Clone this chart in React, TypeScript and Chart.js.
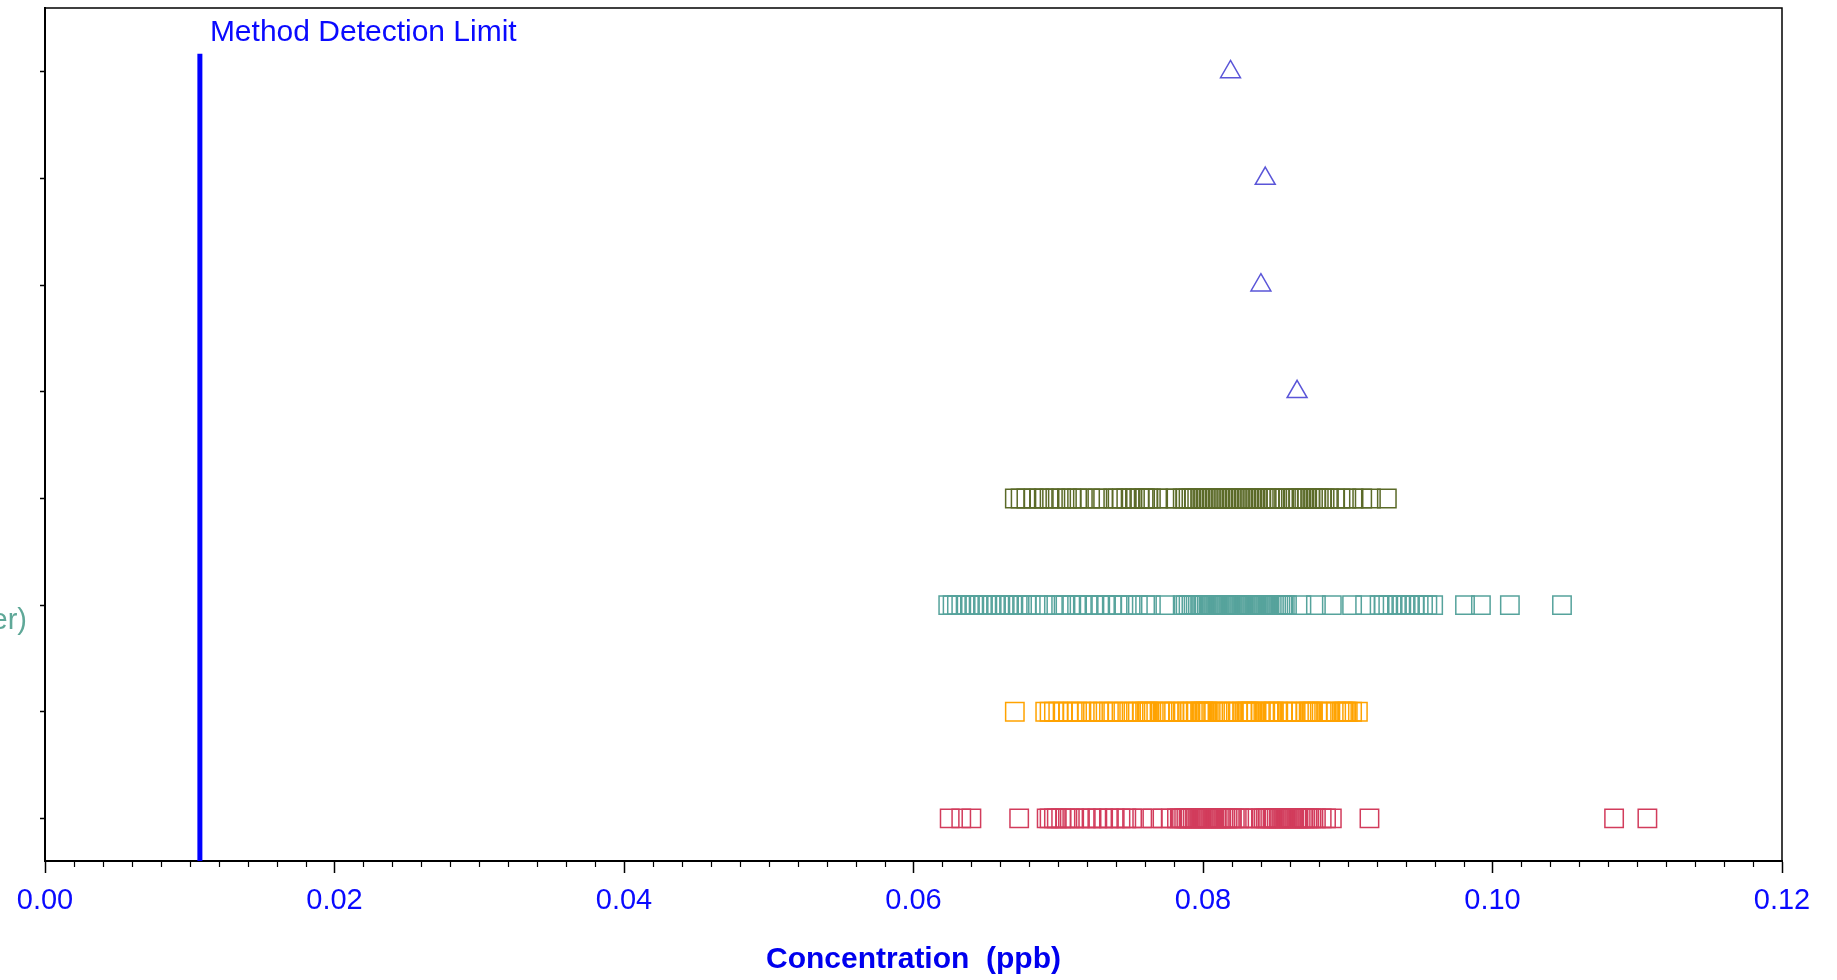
import { useEffect, useRef } from "react";
import { Chart, registerables } from "chart.js";

Chart.register(...registerables);

// ---------- data ----------
const xTickValues = [0, 0.02, 0.04, 0.06, 0.08, 0.1, 0.12];
const xTickLabels = ["0.00", "0.02", "0.04", "0.06", "0.08", "0.10", "0.12"];
const rowPositions = [1, 2, 3, 4, 5, 6, 7, 8];

const mdlValue = 0.0107;
const mdlTop = 8.17;
const mdlLabel = "Method Detection Limit";
const xTitle = "Concentration  (ppb)";
const yVisibleLabel = "er)";
const yLabelRow = 3;

const triangleRows = [5, 6, 7, 8];
const triangleValues = [0.0865, 0.0840, 0.0843, 0.0819];

const oliveRow = 4;
const oliveValues = [
  0.0670, 0.0674, 0.0678, 0.0683, 0.0687, 0.0690, 0.0694, 0.0698, 0.0702, 0.0706,
  0.0709, 0.0713, 0.0717, 0.0722, 0.0727, 0.0731, 0.0738, 0.0741, 0.0744, 0.0747,
  0.0750, 0.0753, 0.0756, 0.0759, 0.0760, 0.0762, 0.0764, 0.0769, 0.0775, 0.0781,
  0.0786, 0.0788, 0.0790, 0.0792, 0.0794, 0.0796, 0.0798, 0.0800, 0.0802, 0.0804,
  0.0806, 0.0808, 0.0810, 0.0812, 0.0814, 0.0816, 0.0818, 0.0820, 0.0822, 0.0824,
  0.0826, 0.0828, 0.0830, 0.0832, 0.0834, 0.0836, 0.0838, 0.0840, 0.0842, 0.0844,
  0.0846, 0.0848, 0.0850, 0.0853, 0.0856, 0.0859, 0.0862, 0.0864, 0.0866, 0.0868,
  0.0870, 0.0872, 0.0874, 0.0876, 0.0878, 0.0880, 0.0882, 0.0884, 0.0887, 0.0891,
  0.0895, 0.0899, 0.0904, 0.0910, 0.0916, 0.0927,
];

const tealRow = 3;
const tealValues = [
  0.0624, 0.0627, 0.0630, 0.0633, 0.0636, 0.0639, 0.0642, 0.0645, 0.0648, 0.0651,
  0.0654, 0.0657, 0.0660, 0.0663, 0.0666, 0.0669, 0.0672, 0.0675, 0.0678, 0.0681,
  0.0686, 0.0691, 0.0697, 0.0702, 0.0705, 0.0709, 0.0713, 0.0717, 0.0721, 0.0725,
  0.0729, 0.0733, 0.0737, 0.0741, 0.0745, 0.0750, 0.0755, 0.0760, 0.0764, 0.0774,
  0.0786, 0.0788, 0.0790, 0.0792, 0.07935, 0.0795, 0.07965, 0.0798, 0.07995, 0.0801,
  0.08025, 0.0804, 0.08055, 0.0807, 0.08085, 0.0810, 0.08115, 0.0813, 0.08145, 0.0816,
  0.08175, 0.0819, 0.08205, 0.0822, 0.08235, 0.0825, 0.08265, 0.0828, 0.08295, 0.0831,
  0.08325, 0.0834, 0.08355, 0.0837, 0.08385, 0.0840, 0.08415, 0.0843, 0.08445, 0.0846,
  0.08475, 0.0849, 0.08505, 0.0852, 0.08535, 0.0855, 0.08565, 0.0858, 0.0868, 0.0878,
  0.0889, 0.0903, 0.0912, 0.0922, 0.0925, 0.0928, 0.0931, 0.0934, 0.0937, 0.0940,
  0.0943, 0.0946, 0.0949, 0.0952, 0.0955, 0.0959, 0.0981, 0.0992, 0.1012, 0.1048,
];

const orangeRow = 2;
const orangeValues = [
  0.0670, 0.0691, 0.0694, 0.0697, 0.0700, 0.0703, 0.0707, 0.0710, 0.0713, 0.0716,
  0.0720, 0.0724, 0.0728, 0.0731, 0.0735, 0.0738, 0.0741, 0.0745, 0.0749, 0.0752,
  0.0755, 0.0758, 0.0760, 0.0761, 0.0762, 0.0763, 0.0766, 0.0770, 0.0772, 0.0774,
  0.0777, 0.0780, 0.0783, 0.0786, 0.0789, 0.0791, 0.0793, 0.0795, 0.0798, 0.0799,
  0.0800, 0.0801, 0.0802, 0.0803, 0.0804, 0.0807, 0.0810, 0.0812, 0.0815, 0.0818,
  0.0821, 0.0824, 0.0827, 0.0829, 0.0830, 0.0831, 0.0832, 0.0833, 0.0834, 0.0837,
  0.0840, 0.0843, 0.0846, 0.0847, 0.0848, 0.0849, 0.0852, 0.0855, 0.0858, 0.0861,
  0.0864, 0.0868, 0.0871, 0.0873, 0.0874, 0.0875, 0.0876, 0.0879, 0.0882, 0.0885,
  0.0888, 0.0892, 0.0896, 0.0897, 0.0898, 0.0899, 0.0900, 0.0903, 0.0907,
];

const redRow = 1;
const redValues = [
  0.0625, 0.0633, 0.0640, 0.0673, 0.0692, 0.0694, 0.0697, 0.0699, 0.0702, 0.0705,
  0.0708, 0.0711, 0.0715, 0.0719, 0.0723, 0.0727, 0.0731, 0.0735, 0.0739, 0.0743,
  0.0747, 0.0751, 0.0758, 0.0765, 0.0772, 0.0778, 0.0782, 0.0784, 0.07855, 0.0787,
  0.07885, 0.0790, 0.07915, 0.0793, 0.07945, 0.0796, 0.07975, 0.0799, 0.08005, 0.0802,
  0.08035, 0.0805, 0.08065, 0.0808, 0.08095, 0.0811, 0.08125, 0.0814, 0.08155, 0.0817,
  0.08185, 0.0820, 0.0822, 0.0825, 0.0828, 0.0832, 0.0836, 0.0840, 0.0842, 0.08435,
  0.0845, 0.08465, 0.0848, 0.08495, 0.0851, 0.08525, 0.0854, 0.08555, 0.0857, 0.08585,
  0.0860, 0.08615, 0.0863, 0.08645, 0.0866, 0.08675, 0.0869, 0.08705, 0.0872, 0.08735,
  0.0875, 0.0878, 0.0882, 0.0885, 0.0889, 0.0915, 0.1084, 0.1107,
];

// ---------- styles ----------
const COLORS = {
  triangle: "#5a55d8",
  olive: "#5b6a28",
  teal: "#56a39c",
  orange: "#ffa300",
  red: "#d23c5c",
  mdl: "#0000ff",
  text: "#0a0aff",
  title: "#0000ee",
  yLabel: "#5fa898",
};

const FONT = "'Liberation Sans', Arial, sans-serif";
const X_MIN = 0;
const X_MAX = 0.12;
const Y_MIN = 0.6;
const Y_MAX = 8.6;
const MINOR_STEP = 0.002;

const toPoints = (values: number[], row: number) => values.map((v) => ({ x: v, y: row }));

const decorPlugin = {
  id: "decor",
  afterDraw(chart: any) {
    const { ctx, chartArea, scales } = chart;
    const xs = scales.x;
    const ys = scales.y;
    ctx.save();
    // frame (top + right)
    ctx.strokeStyle = "#000";
    ctx.lineWidth = 1.5;
    ctx.beginPath();
    ctx.moveTo(chartArea.left, chartArea.top);
    ctx.lineTo(chartArea.right, chartArea.top);
    ctx.lineTo(chartArea.right, chartArea.bottom);
    ctx.stroke();
    // minor ticks
    ctx.lineWidth = 1.2;
    const n = Math.round((X_MAX - X_MIN) / MINOR_STEP);
    for (let i = 0; i <= n; i++) {
      if (i % 10 === 0) continue;
      const px = Math.round(xs.getPixelForValue(X_MIN + i * MINOR_STEP)) + 0.5;
      ctx.beginPath();
      ctx.moveTo(px, chartArea.bottom);
      ctx.lineTo(px, chartArea.bottom + 6);
      ctx.stroke();
    }
    // MDL label
    ctx.fillStyle = COLORS.text;
    ctx.font = `30px ${FONT}`;
    ctx.textBaseline = "middle";
    ctx.textAlign = "left";
    ctx.fillText(mdlLabel, xs.getPixelForValue(mdlValue) + 10, ys.getPixelForValue(mdlTop) - 21);
    // clipped y label
    ctx.fillStyle = COLORS.yLabel;
    ctx.font = `29px ${FONT}`;
    ctx.textAlign = "right";
    ctx.fillText(yVisibleLabel, 27, ys.getPixelForValue(yLabelRow) + 16);
    ctx.restore();
  },
};

export default function App() {
  const ref = useRef<HTMLCanvasElement | null>(null);

  useEffect(() => {
    if (!ref.current) return;
    const squareDs = (values: number[], row: number, color: string) => ({
      type: "scatter" as const,
      data: toPoints(values, row),
      pointStyle: "rect",
      pointRadius: 13,
      pointHoverRadius: 13,
      borderColor: color,
      backgroundColor: "rgba(0,0,0,0)",
      borderWidth: 1.5,
      showLine: false,
    });
    const chart = new Chart(ref.current, {
      type: "scatter",
      data: {
        datasets: [
          {
            type: "line",
            data: [
              { x: mdlValue, y: Y_MIN },
              { x: mdlValue, y: mdlTop },
            ],
            borderColor: COLORS.mdl,
            borderWidth: 5,
            pointRadius: 0,
            fill: false,
          } as any,
          {
            type: "scatter",
            data: triangleValues.map((v, i) => ({ x: v, y: triangleRows[i] })),
            pointStyle: "triangle",
            pointRadius: 11.5,
            borderColor: COLORS.triangle,
            backgroundColor: "rgba(0,0,0,0)",
            borderWidth: 1.5,
          } as any,
          squareDs(oliveValues, oliveRow, COLORS.olive) as any,
          squareDs(tealValues, tealRow, COLORS.teal) as any,
          squareDs(orangeValues, orangeRow, COLORS.orange) as any,
          squareDs(redValues, redRow, COLORS.red) as any,
        ],
      },
      options: {
        animation: false,
        responsive: false,
        events: [],
        layout: { autoPadding: false, padding: { left: 0, right: 55, top: 8, bottom: 0 } },
        plugins: { legend: { display: false }, tooltip: { enabled: false } },
        scales: {
          x: {
            type: "linear",
            min: X_MIN,
            max: X_MAX,
            afterBuildTicks: (s: any) => {
              s.ticks = xTickValues.map((v) => ({ value: v }));
            },
            afterFit: (s: any) => {
              s.height = 119;
            },
            ticks: {
              callback: (v: any) => {
                const i = xTickValues.findIndex((t) => Math.abs(t - Number(v)) < 1e-9);
                return i >= 0 ? xTickLabels[i] : "";
              },
              color: COLORS.text,
              font: { family: FONT, size: 29 },
              padding: 11,
              maxRotation: 0,
              autoSkip: false,
            },
            grid: {
              drawOnChartArea: false,
              drawTicks: true,
              tickLength: 12,
              tickColor: "#000",
              tickWidth: 1.5,
            },
            border: { display: true, color: "#000", width: 2 },
            title: {
              display: true,
              text: xTitle,
              color: COLORS.title,
              font: { family: FONT, size: 30, weight: "bold" },
              padding: { top: 0, bottom: 2 },
            },
          },
          y: {
            type: "linear",
            min: Y_MIN,
            max: Y_MAX,
            afterBuildTicks: (s: any) => {
              s.ticks = rowPositions.map((v) => ({ value: v }));
            },
            afterFit: (s: any) => {
              s.width = 45;
            },
            ticks: { display: false },
            grid: {
              drawOnChartArea: false,
              drawTicks: true,
              tickLength: 5,
              tickColor: "#000",
              tickWidth: 1.5,
            },
            border: { display: true, color: "#000", width: 2 },
          },
        },
      },
      plugins: [decorPlugin],
    });
    return () => chart.destroy();
  }, []);

  return (
    <div style={{ position: "fixed", left: 0, top: 0, width: 1837, height: 980, background: "#fff" }}>
      <canvas ref={ref} width={1837} height={980} style={{ display: "block", width: 1837, height: 980 }} />
    </div>
  );
}
